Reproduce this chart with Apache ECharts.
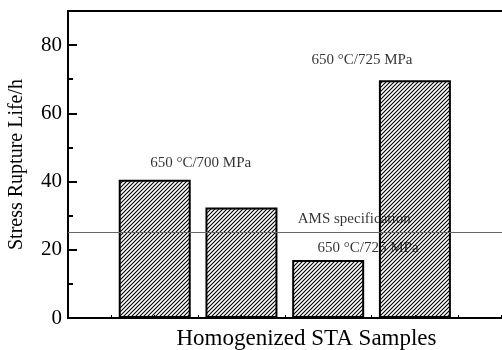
<!DOCTYPE html>
<html>
<head>
<meta charset="utf-8">
<script src="https://cdn.jsdelivr.net/npm/echarts@6/dist/echarts.min.js"></script>
<style>
  html, body { margin: 0; padding: 0; background: #fff; }
  #chart { width: 502px; height: 350px; }
</style>
</head>
<body>
<div id="chart"></div>
<script>
// sample positions on the x axis and rupture life (h)
const samples = [1, 2, 3, 4];
const ruptureLife = [40.5, 32.4, 17.0, 69.7];
const specLife = 25;
const yTicks = [0, 20, 40, 60, 80];

// annotation texts and where they sit (data coords)
const noteTexts = ["650 °C/700 MPa", "650 °C/725 MPa", "AMS specification", "650 °C/725 MPa"];
const noteX = [1.53, 3.39, 3.30, 3.46];
const noteY = [45.4, 75.6, 29.0, 20.5];

const font = "Liberation Serif";

// diagonal hatch
function hatch() {
  const c = document.createElement("canvas");
  c.width = 4; c.height = 4;
  const g = c.getContext("2d");
  g.strokeStyle = "#000";
  g.lineWidth = 1.1;
  g.beginPath();
  g.moveTo(0, 4); g.lineTo(4, 0);
  g.moveTo(-1, 1); g.lineTo(1, -1);
  g.moveTo(3, 5); g.lineTo(5, 3);
  g.stroke();
  return c;
}

let mychart = echarts.init(document.getElementById("chart"));
let option = {
  animation: false,
  grid: {
    left: 68, top: 11, width: 477, height: 307,
    outerBoundsMode: "none",
    containLabel: false,
    show: true, borderColor: "#000", borderWidth: 2
  },
  xAxis: [{
    type: "value",
    min: 0, max: 5.5, interval: 0.5,
    name: "Homogenized STA Samples",
    nameLocation: "middle",
    nameGap: 9,
    nameTextStyle: { fontFamily: font, fontSize: 23, color: "#000" },
    axisLine: { show: true, onZero: false, lineStyle: { color: "#000", width: 2 } },
    axisTick: { show: true, inside: true, length: 3, lineStyle: { color: "#000" } },
    axisLabel: { show: false },
    splitLine: { show: false }
  }],
  yAxis: [{
    type: "value",
    min: 0, max: 90, interval: 20,
    name: "Stress Rupture Life/h",
    nameLocation: "middle",
    nameGap: 41,
    nameTextStyle: { fontFamily: font, fontSize: 20, color: "#000" },
    axisLine: { show: true, lineStyle: { color: "#000", width: 2 } },
    axisTick: { show: true, inside: true, length: 9, lineStyle: { color: "#000", width: 2 } },
    axisLabel: {
      fontFamily: font, fontSize: 21, color: "#000", margin: 6,
      formatter: v => (yTicks.indexOf(v) >= 0 ? String(v) : "")
    },
    splitLine: { show: false }
  }, {
    type: "value",
    position: "left",
    min: 0, max: 90, interval: 10,
    axisLine: { show: false },
    axisTick: { show: true, inside: true, length: 5, lineStyle: { color: "#000", width: 2 } },
    axisLabel: { show: false },
    splitLine: { show: false }
  }],
  series: [
    {
      type: "scatter",
      z: 1,
      symbolSize: 0,
      silent: true,
      data: noteTexts.map((t, i) => ({ value: [noteX[i], noteY[i]], name: t })),
      label: {
        show: true,
        position: "inside",
        formatter: p => p.name,
        fontFamily: font,
        fontSize: 15,
        color: "#000"
      }
    },
    {
      type: "bar",
      z: 2,
      barWidth: 72,
      data: samples.map((s, i) => [s, ruptureLife[i]]),
      itemStyle: {
        color: { image: hatch(), repeat: "repeat" },
        borderColor: "#000",
        borderWidth: 2
      },
      markLine: {
        silent: true,
        symbol: "none",
        label: { show: false },
        lineStyle: { color: "#666", width: 1, type: "solid" },
        data: [{ yAxis: specLife }]
      }
    }
  ]
};
mychart.setOption(option);
</script>
</body>
</html>
